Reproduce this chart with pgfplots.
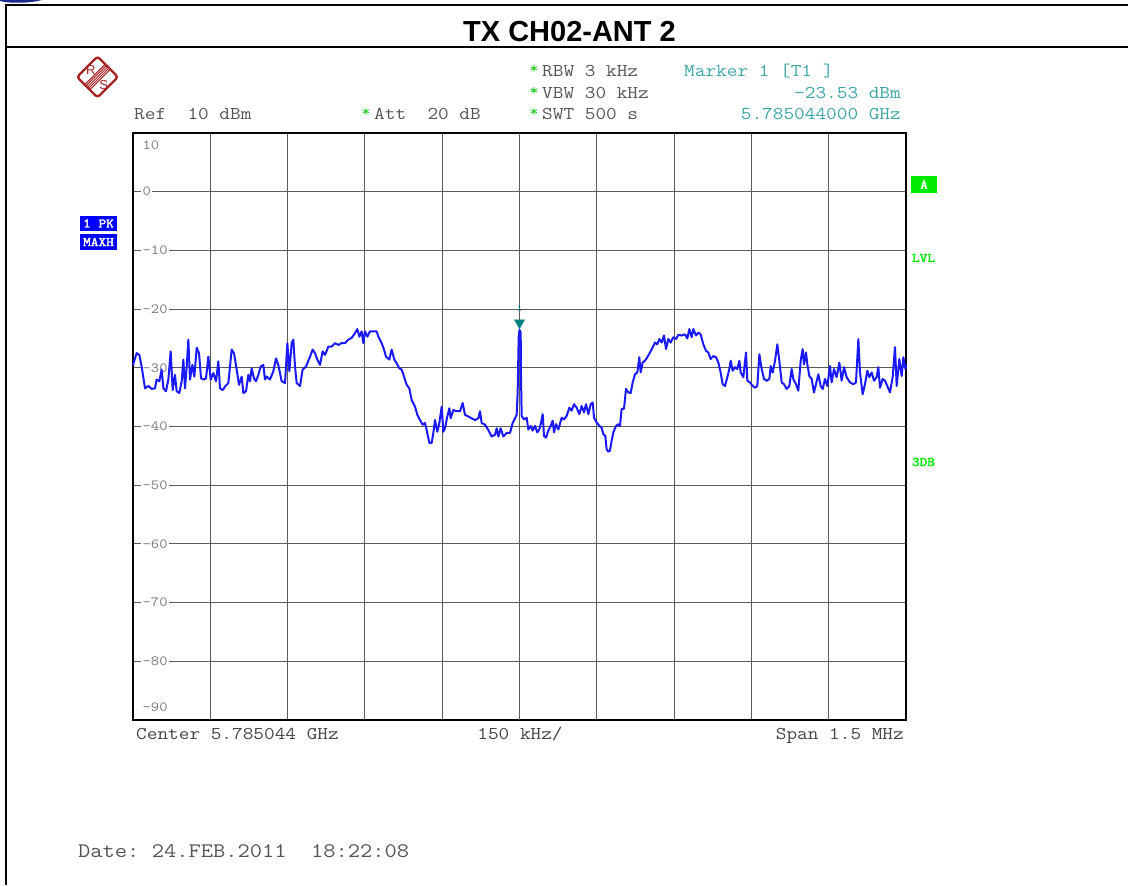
\documentclass[border=0pt]{standalone}
\usepackage{fontspec}
\setmainfont{Liberation Sans}
\newfontfamily\instr[FakeStretch=1.15]{Latin Modern Mono}
\newfontfamily\tagfont[FakeStretch=1.15, FakeBold=2.5]{Latin Modern Mono}
\usepackage{pgfplots}
\usepackage{pgfplotstable}
\pgfplotsset{compat=1.18}

\definecolor{trace}{RGB}{25,25,250}
\definecolor{mkteal}{RGB}{0,128,128}
\definecolor{mktext}{RGB}{60,165,165}
\definecolor{txtgray}{RGB}{85,85,85}
\definecolor{lblgray}{RGB}{120,120,120}
\definecolor{gridgray}{RGB}{90,90,90}
\definecolor{lvlgreen}{RGB}{0,235,0}
\definecolor{starg}{RGB}{0,200,0}
\definecolor{rsred}{RGB}{165,35,35}
\definecolor{pkblue}{RGB}{0,0,255}
\definecolor{logoblue}{RGB}{30,40,140}

% tick labels sit under the trace, above the grid
\pgfplotsset{
  layers/traceontop/.define layer set={axis background,axis grid,axis ticks,axis tick labels,main,axis lines,axis descriptions,axis foreground}{},
}

% max-hold trace, frequency offset from 5.785044 GHz in kHz, level in dBm
\pgfplotstableread{
f p
-750 -29.5
-742.9 -27.5
-737.7 -27.8
-733.2 -29.8
-726.7 -33.5
-720.2 -33.1
-713.8 -33.6
-707.3 -33.5
-704.1 -32.0
-698.9 -32.3
-694.4 -30.3
-691.0 -33.5
-686.0 -34.0
-681.4 -32.0
-676.9 -27.2
-673.0 -33.8
-668.5 -31.2
-665.3 -34.0
-660.1 -34.3
-655.5 -32.3
-652.3 -28.6
-649.1 -33.5
-645.8 -29.8
-642.6 -25.2
-639.4 -32.0
-634.8 -29.5
-631.0 -31.5
-626.4 -26.6
-621.9 -27.5
-618.0 -31.8
-612.2 -32.0
-608.3 -31.8
-603.8 -28.1
-599.3 -32.0
-594.1 -30.9
-588.9 -32.3
-584.4 -28.9
-581.2 -33.5
-576.0 -33.8
-571.5 -33.2
-565.0 -32.6
-558.5 -26.9
-554.0 -27.5
-548.8 -30.3
-544.3 -32.9
-539.1 -31.5
-535.9 -34.3
-530.7 -34.0
-526.2 -31.2
-522.9 -32.3
-519.7 -30.1
-515.2 -31.8
-511.3 -32.3
-506.8 -31.2
-502.3 -29.8
-497.1 -29.5
-493.9 -32.0
-490.6 -31.5
-484.2 -32.0
-477.7 -30.6
-472.5 -28.4
-468.0 -29.5
-461.5 -32.3
-455.0 -32.6
-450.5 -25.8
-446.6 -30.6
-442.1 -25.8
-438.9 -25.2
-435.6 -29.8
-432.4 -32.6
-425.9 -33.1
-420.8 -30.3
-414.3 -29.8
-406.5 -28.1
-401.4 -26.9
-396.8 -27.5
-392.3 -28.6
-387.1 -29.5
-382.0 -27.2
-377.4 -27.8
-371.0 -26.4
-364.5 -26.4
-358.0 -25.8
-351.6 -26.1
-345.1 -25.8
-338.6 -25.8
-332.1 -25.2
-325.7 -24.9
-319.2 -24.1
-314.7 -23.4
-310.8 -24.7
-306.3 -23.8
-303.0 -25.8
-299.8 -23.8
-295.3 -24.7
-290.1 -23.8
-283.6 -23.8
-277.2 -23.8
-273.9 -24.7
-267.5 -25.8
-262.9 -26.9
-259.1 -28.1
-252.6 -28.6
-248.1 -26.9
-242.9 -28.6
-238.4 -29.2
-233.2 -30.1
-228.7 -30.3
-224.1 -31.5
-219.0 -32.9
-213.8 -33.5
-209.3 -35.5
-202.8 -36.6
-198.3 -38.0
-193.1 -38.9
-187.9 -39.7
-183.4 -39.4
-178.9 -41.1
-175.0 -42.8
-170.4 -42.8
-167.2 -41.1
-164.0 -38.9
-159.4 -40.9
-155.6 -39.4
-151.0 -36.6
-147.8 -40.9
-144.6 -40.3
-140.1 -38.3
-136.2 -36.9
-133.6 -38.6
-128.4 -37.2
-121.9 -37.4
-115.4 -37.4
-110.3 -36.0
-105.8 -38.0
-99.3 -38.3
-92.8 -38.6
-86.3 -38.9
-79.9 -38.6
-76.7 -37.4
-73.4 -39.4
-66.9 -39.7
-60.5 -40.6
-54.0 -41.7
-47.5 -41.4
-44.3 -40.3
-41.1 -41.7
-36.6 -40.3
-31.4 -41.7
-24.9 -41.1
-18.4 -41.1
-13.3 -39.4
-8.7 -38.6
-5.5 -38.0
-3.6 -34.3
-1.6 -24.7
0 -23.53
2.3 -24.0
2.9 -31.4
4.2 -38.2
8.7 -38.8
13.9 -38.5
17.1 -40.5
21.7 -39.9
25.5 -40.7
30.1 -39.9
34.6 -41.0
38.5 -40.5
41.1 -39.6
45.0 -37.9
47.5 -41.6
51.4 -41.9
55.9 -40.7
60.5 -39.9
64.4 -39.0
66.9 -41.0
70.8 -39.6
75.4 -40.5
81.8 -38.5
86.3 -38.8
91.5 -38.2
96.7 -36.8
101.2 -37.3
105.8 -36.2
110.9 -36.8
116.1 -37.9
120.6 -36.5
125.2 -37.6
129.0 -36.2
133.6 -37.9
138.1 -36.2
142.0 -35.9
144.6 -38.5
149.7 -39.3
154.9 -39.9
159.4 -40.2
162.7 -41.3
166.5 -41.6
169.1 -43.9
172.4 -44.3
175.6 -44.1
178.8 -42.4
182.1 -41.0
187.2 -39.9
191.8 -39.6
195.0 -39.9
198.2 -37.0
202.8 -37.0
206.6 -33.6
211.2 -34.2
215.7 -34.3
219.6 -32.5
224.1 -31.1
228.6 -30.8
232.5 -28.2
235.1 -30.8
239.0 -29.1
243.5 -28.8
248.0 -28.2
253.2 -27.4
258.4 -26.5
262.9 -25.7
267.4 -26.0
271.3 -25.1
275.9 -25.7
280.4 -24.5
284.3 -26.8
288.8 -25.1
293.3 -25.7
298.5 -24.8
303.7 -25.1
308.2 -24.4
314.7 -24.5
321.1 -24.3
325.7 -25.0
329.5 -23.4
334.1 -24.8
337.3 -23.4
342.5 -24.5
347.0 -24.0
351.5 -24.3
356.7 -26.0
361.9 -27.1
366.4 -27.4
370.9 -28.5
376.1 -28.0
381.3 -28.2
385.8 -29.1
390.3 -30.8
394.2 -32.8
398.8 -33.1
403.3 -31.6
407.2 -30.2
409.8 -28.8
413.6 -30.5
418.2 -29.9
422.7 -30.2
426.6 -28.8
429.2 -30.8
434.3 -31.6
439.5 -27.4
442.1 -32.2
447.3 -32.5
452.4 -33.1
457.0 -33.4
461.5 -33.1
465.4 -27.7
469.9 -30.2
474.4 -31.9
479.6 -32.2
484.8 -31.9
487.4 -29.7
491.3 -30.8
495.8 -28.8
500.3 -26.0
504.2 -28.8
508.7 -32.5
513.2 -32.8
518.4 -33.6
523.6 -33.1
528.1 -30.2
531.3 -31.9
536.5 -32.8
541.0 -33.9
545.6 -28.8
549.4 -26.8
552.0 -29.4
555.9 -27.4
558.5 -29.4
562.4 -31.4
566.9 -31.9
571.4 -34.2
575.3 -32.8
579.9 -31.1
584.4 -33.1
588.3 -33.6
592.8 -31.9
597.3 -33.1
602.5 -29.7
605.7 -32.5
610.3 -30.2
615.4 -31.6
620.6 -29.1
625.1 -32.2
629.7 -29.9
634.8 -31.6
641.3 -32.5
647.8 -32.8
652.9 -32.5
657.5 -25.1
660.7 -30.8
665.9 -34.5
670.4 -32.8
674.9 -30.5
678.8 -31.6
683.4 -30.8
687.9 -32.2
693.0 -31.6
696.3 -29.9
699.5 -33.4
704.7 -31.9
709.2 -32.2
713.7 -33.1
718.9 -34.2
724.1 -31.6
728.6 -26.5
731.9 -33.1
737.0 -28.5
741.6 -31.4
744.8 -28.2
748.7 -30.2
750 -29.5
}\tracedata

\tikzset{
  ins/.style={font=\instr\fontsize{18}{20}\selectfont, text=txtgray, inner sep=0pt},
  star/.style={font=\instr\fontsize{15}{15}\selectfont, text=starg, inner sep=0pt, anchor=base},
  tag/.style={font=\tagfont\fontsize{13}{13}\selectfont, inner sep=0pt},
}

\begin{document}
\begin{tikzpicture}[x=1pt,y=1pt]
% page area
\path (0,0) rectangle (1129,886);

% page frame and title row
\fill[logoblue] (0,886) -- (0,885) .. controls (8,882.5) and (30,882.5) .. (42,886) -- cycle;
\draw[line width=2pt] (5.5,1) -- (5.5,881) -- (1128,881);
\draw[line width=2pt] (5.5,838.5) -- (1128,838.5);
\node[font=\bfseries\fontsize{29}{30}\selectfont, anchor=base] at (569.5,844) {TX CH02-ANT 2};

% R&S logo
\begin{scope}[shift={(97.5,809)}]
  \begin{scope}[rotate=45]
    \draw[rsred, line width=2.4pt, rounded corners=3pt] (-14.5,-14.5) rectangle (14.5,14.5);
    \foreach \yy in {-3.6,-1.8,0,1.8,3.6}
      \draw[rsred, line width=1pt] (-14.5,\yy) -- (14.5,\yy);
  \end{scope}
  \node[rsred, font=\fontsize{13}{13}\selectfont, inner sep=0pt] at (-6.8,6.8) {R};
  \node[rsred, font=\fontsize{13}{13}\selectfont, inner sep=0pt] at (6.2,-7.8) {S};
\end{scope}

% instrument settings header
\node[ins, anchor=base west] at (134,766) {Ref~~10~dBm};
\node[star] at (366,769) {*};
\node[ins, anchor=base west] at (374,766) {Att~~20~dB};
\node[star] at (534,812) {*};
\node[ins, anchor=base west] at (542,809) {RBW~3~kHz};
\node[star] at (534,790) {*};
\node[ins, anchor=base west] at (542,787) {VBW~30~kHz};
\node[star] at (534,769) {*};
\node[ins, anchor=base west] at (542,766) {SWT~500~s};
\node[ins, text=mktext, anchor=base west] at (684,809) {Marker~1~[T1~]};
\node[ins, text=mktext, anchor=base east] at (901,787) {-23.53~dBm};
\node[ins, text=mktext, anchor=base east] at (901,766) {5.785044000~GHz};

% trace mode boxes
\node[tag, fill=pkblue, text=white, minimum width=37pt, minimum height=15.5pt] at (98.5,662.6) {1~PK};
\node[tag, fill=pkblue, text=white, minimum width=37pt, minimum height=16pt] at (98.5,644) {MAXH};

% screen flags on the right
\node[tag, fill=lvlgreen, text=white, minimum width=26pt, minimum height=17pt] at (924,701.5) {A};
\node[tag, text=lvlgreen] at (923.5,628) {LVL};
\node[tag, text=lvlgreen] at (923.5,424) {3DB};

\begin{axis}[
  at={(133pt,166pt)}, anchor=south west,
  width=773pt, height=587pt, scale only axis,
  set layers=traceontop,
  xmin=-750, xmax=750, ymin=-90, ymax=10,
  xtick={-600,-450,-300,-150,150,300,450,600},
  xticklabels={},
  extra x ticks={0},
  extra x tick labels={},
  extra x tick style={grid style={black, line width=2pt}},
  ytick={-80,-70,-60,-50,-40,-30,-20,-10,0},
  yticklabels={-80,-70,-60,-50,-40,-30,-20,-10,0},
  yticklabel style={font=\instr\fontsize{14}{14}\selectfont, text=lblgray,
    anchor=west, xshift=8pt, fill=white, inner sep=1.5pt},
  tick style={draw=none},
  major tick length=0pt,
  grid=major,
  major grid style={gridgray, line width=1pt},
  axis line style={black, line width=2.5pt},
  clip=false,
]
  \addplot[trace, line width=2pt, line join=round] table[x=f, y=p] {\tracedata};
  % marker 1 on the carrier peak
  \addplot[only marks, mark=triangle*, mark size=5.8pt, color=mkteal,
    mark options={yshift=7pt, rotate=180}] coordinates {(0,-23.53)};
  \node[text=mkteal, font=\instr\fontsize{9}{9}\selectfont, inner sep=0pt]
    at (axis cs:0,-23.53) [yshift=21pt] {1};
  \node[font=\instr\fontsize{14}{14}\selectfont, text=lblgray, anchor=west, inner sep=1.5pt]
    at (axis cs:-750,8) [xshift=8pt] {10};
  \node[font=\instr\fontsize{14}{14}\selectfont, text=lblgray, anchor=west, inner sep=1.5pt]
    at (axis cs:-750,-87.8) [xshift=8pt] {-90};
\end{axis}

% frequency axis annotation and timestamp
\node[ins, text=txtgray!80!black, anchor=base west] at (136,146) {Center~5.785044~GHz};
\node[ins, text=txtgray!80!black, anchor=base] at (520,146) {150~kHz/};
\node[ins, text=txtgray!80!black, anchor=base east] at (904,146) {Span~1.5~MHz};
\node[font=\instr\fontsize{20.7}{22}\selectfont, text=txtgray, anchor=base west, inner sep=0pt] at (78,28.5) {Date:~24.FEB.2011~~18:22:08};
\end{tikzpicture}
\end{document}
